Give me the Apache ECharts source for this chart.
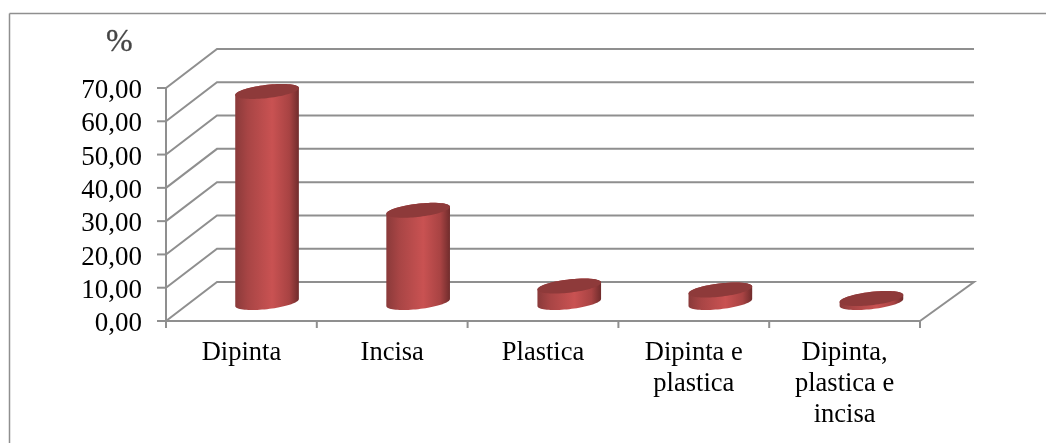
<!DOCTYPE html>
<html>
<head>
<meta charset="utf-8">
<style>html,body{margin:0;padding:0;background:#fff}#c{width:1046px;height:443px}</style>
<script src="https://cdn.jsdelivr.net/npm/echarts@6/dist/echarts.min.js"></script>
</head>
<body>
<div id="c"></div>
<script>
const categories = ['Dipinta', 'Incisa', 'Plastica', 'Dipinta e\nplastica', 'Dipinta,\nplastica e\nincisa'];
const values = [63.1, 27.4, 4.65, 3.45, 0.9];
const yTicks = [0, 10, 20, 30, 40, 50, 60, 70];
const yName = '%';

const FONT = '"Liberation Serif","Times New Roman",serif';
const LINE = '#8f8f8f';
const DX = 51, DY = -39, DX_RIGHT = 54;
const lineStyle = { stroke: LINE, lineWidth: 2, fill: null };

function wallItem(params, api) {
  const cs = params.coordSys;
  const y = api.coord([0, api.value(0)])[1];
  const y0 = api.coord([0, 0])[1];
  const x0 = cs.x, x1 = cs.x + cs.width;
  const pts = [[x0, y], [x0 + DX, y + DY], [x1 + DX_RIGHT, y + DY]];
  if (api.value(0) === 0) pts.push([x1, y]);
  return {
    type: 'group',
    children: [
      { type: 'polyline', shape: { points: pts }, style: lineStyle },
      { type: 'line', shape: { x1: x0 - 9, y1: y, x2: x0, y2: y }, style: lineStyle },
      { type: 'line', shape: { x1: x0, y1: y, x2: x0, y2: y0 + 1 }, style: lineStyle }
    ]
  };
}

function xTickItem(params, api) {
  const cs = params.coordSys;
  const x = cs.x + cs.width * api.value(0) / categories.length;
  const y = cs.y + cs.height;
  return {
    type: 'group',
    children: [
      { type: 'line', shape: { x1: x, y1: y, x2: x, y2: y + 7 }, style: lineStyle },
      { type: 'line', shape: { x1: cs.x, y1: y, x2: cs.x + cs.width, y2: y }, style: lineStyle }
    ]
  };
}

function cylinderItem(params, api) {
  const cs = params.coordSys;
  const band = api.size([1, 0])[0];
  const base = api.coord([api.value(0), 0]);
  const top = api.coord([api.value(0), api.value(1)]);
  const frac = (base[0] - cs.x) / cs.width;
  const cx = base[0] + DX / 2 + frac * (DX_RIGHT - DX) / 2;
  const yBottom = base[1] + DY / 2 + 1;
  const yTop = top[1] + DY / 2;
  const halfW = band * 0.211;
  const C = 7.5, B = halfW * 0.467, A = Math.sqrt(halfW * halfW - B * B);
  const t0 = Math.atan2(B, A);
  const at = (t, cy) => [cx + A * Math.cos(t) + B * Math.sin(t), cy - C * Math.sin(t)];
  const N = 40, body = [], cap = [];
  for (let i = 0; i <= N; i++) body.push(at(t0 + Math.PI + Math.PI * i / N, yBottom));
  for (let i = 0; i <= N; i++) body.push(at(t0 + Math.PI * i / N, yTop));
  for (let i = 0; i < N * 2; i++) cap.push(at(Math.PI * i / N, yTop));
  return {
    type: 'group',
    children: [
      {
        type: 'polygon',
        shape: { points: body },
        style: {
          fill: {
            type: 'linear', x: 0, y: 0, x2: 1, y2: 0,
            colorStops: [
              { offset: 0, color: '#8a3a3a' },
              { offset: 0.2, color: '#a84545' },
              { offset: 0.58, color: '#c95252' },
              { offset: 0.85, color: '#a84343' },
              { offset: 1, color: '#702c2c' }
            ]
          }
        }
      },
      { type: 'polygon', shape: { points: cap }, style: { fill: '#8e3a3a' } }
    ]
  };
}

const chart = echarts.init(document.getElementById('c'), null, { renderer: 'canvas' });
chart.setOption({
  animation: false,
  backgroundColor: '#fff',
  title: {
    text: yName, left: 101, top: 22,
    textStyle: {
      fontFamily: FONT, fontSize: 32, fontWeight: 'normal', color: '#444',
      textBorderColor: '#666', textBorderWidth: 0.4
    }
  },
  grid: { left: 166, top: 88, width: 754, height: 233 },
  xAxis: {
    type: 'category',
    data: categories,
    axisLine: { show: false },
    axisTick: { show: false },
    axisLabel: { fontFamily: FONT, fontSize: 26.5, color: '#000', margin: 17, lineHeight: 31, interval: 0 }
  },
  yAxis: {
    type: 'value', min: 0, max: 70, interval: 10,
    axisLine: { show: false },
    axisTick: { show: false },
    splitLine: { show: false },
    axisLabel: {
      fontFamily: FONT, fontSize: 27, color: '#000', margin: 24,
      formatter: v => '{v|' + v.toFixed(2).replace('.', ',') + '}',
      rich: { v: { fontFamily: FONT, fontSize: 27, color: '#000', padding: [6, 0, 0, 0] } }
    }
  },
  graphic: [
    { type: 'line', shape: { x1: 9.5, y1: 13.5, x2: 1046, y2: 13.5 }, style: { stroke: '#8f8f8f', lineWidth: 1.5 } },
    { type: 'line', shape: { x1: 9.5, y1: 13.5, x2: 9.5, y2: 443 }, style: { stroke: '#8f8f8f', lineWidth: 1.5 } }
  ],
  series: [
    {
      type: 'custom', name: 'walls', coordinateSystem: 'cartesian2d',
      data: yTicks.map(v => [v]), encode: { y: 0 },
      renderItem: wallItem, silent: true, z: 1
    },
    {
      type: 'custom', name: 'xTicks', coordinateSystem: 'cartesian2d',
      data: [0].concat(categories.map((c, i) => i + 1)).map(v => [v]), encode: { x: 0 },
      renderItem: xTickItem, silent: true, clip: false, z: 1
    },
    {
      type: 'custom', name: 'valori', coordinateSystem: 'cartesian2d',
      data: values.map((v, i) => [i, v]), encode: { x: 0, y: 1 },
      renderItem: cylinderItem, silent: true, z: 5
    }
  ]
});
</script>
</body>
</html>
